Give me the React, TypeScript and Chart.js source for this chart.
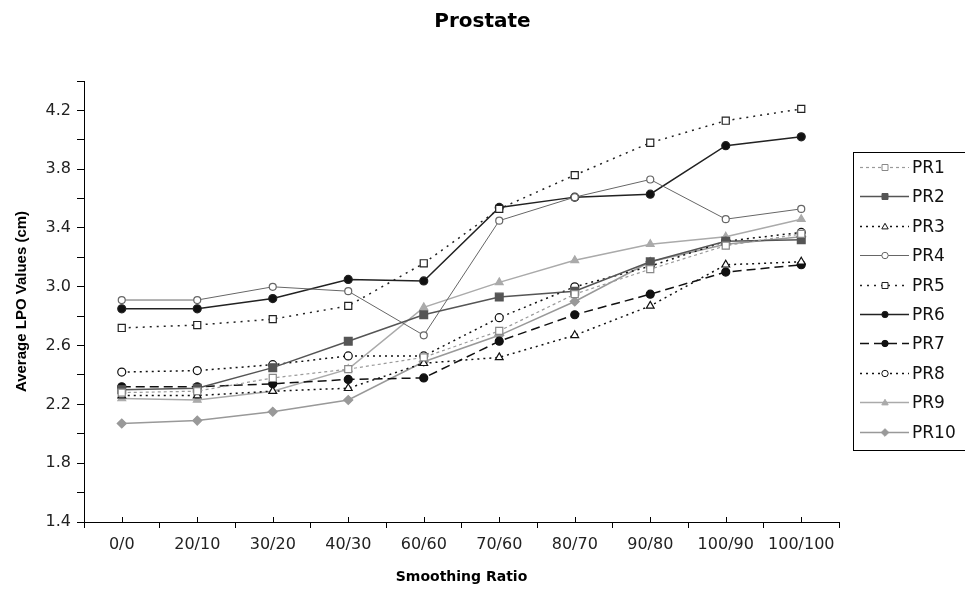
import React, { useEffect, useRef } from "react";
import { Chart, registerables } from "chart.js";

Chart.register(...registerables);

const categories = ["0/0", "20/10", "30/20", "40/30", "60/60", "70/60", "80/70", "90/80", "100/90", "100/100"];
const seriesNames = ["PR1", "PR2", "PR3", "PR4", "PR5", "PR6", "PR7", "PR8", "PR9", "PR10"];
const pr1 = [2.28, 2.29, 2.38, 2.44, 2.52, 2.70, 2.95, 3.12, 3.28, 3.36];
const pr2 = [2.30, 2.31, 2.45, 2.63, 2.81, 2.93, 2.97, 3.17, 3.31, 3.32];
const pr3 = [2.26, 2.26, 2.29, 2.31, 2.48, 2.52, 2.67, 2.87, 3.15, 3.17];
const pr4 = [2.91, 2.91, 3.00, 2.97, 2.67, 3.45, 3.61, 3.73, 3.46, 3.53];
const pr5 = [2.72, 2.74, 2.78, 2.87, 3.16, 3.53, 3.76, 3.98, 4.13, 4.21];
const pr6 = [2.85, 2.85, 2.92, 3.05, 3.04, 3.54, 3.61, 3.63, 3.96, 4.02];
const pr7 = [2.32, 2.32, 2.34, 2.37, 2.38, 2.63, 2.81, 2.95, 3.10, 3.15];
const pr8 = [2.42, 2.43, 2.47, 2.53, 2.53, 2.79, 3.00, 3.14, 3.31, 3.37];
const pr9 = [2.24, 2.23, 2.29, 2.44, 2.86, 3.03, 3.18, 3.29, 3.34, 3.46];
const pr10 = [2.07, 2.09, 2.15, 2.23, 2.49, 2.67, 2.90, 3.17, 3.29, 3.34];
const yMin = 1.4;
const yMax = 4.4;
const yStep = 0.2;

const seriesValues = [pr1, pr2, pr3, pr4, pr5, pr6, pr7, pr8, pr9, pr10];

const styles = [
  { color: "#9a9a9a", dash: [3, 3], width: 1.2, point: "rect", fill: "#ffffff", radius: 5 },
  { color: "#555555", dash: [], width: 1.5, point: "rect", fill: "#555555", radius: 5.5 },
  { color: "#111111", dash: [2, 4], width: 1.5, point: "triangle", fill: "#ffffff", radius: 4.5 },
  { color: "#666666", dash: [], width: 1, point: "circle", fill: "#ffffff", radius: 3.5 },
  { color: "#222222", dash: [2, 5], width: 1.5, point: "rect", fill: "#ffffff", radius: 5 },
  { color: "#222222", dash: [], width: 1.5, point: "circle", fill: "#111111", radius: 4 },
  { color: "#111111", dash: [9, 5], width: 1.5, point: "circle", fill: "#111111", radius: 4 },
  { color: "#111111", dash: [2, 4], width: 1.5, point: "circle", fill: "#ffffff", radius: 4 },
  { color: "#aaaaaa", dash: [], width: 1.5, point: "triangle", fill: "#aaaaaa", radius: 4.5 },
  { color: "#999999", dash: [], width: 1.5, point: "rectRot", fill: "#999999", radius: 4.5 },
];

const wideFont = "'DejaVu Sans', Verdana, sans-serif";
const plainFont = "'Liberation Sans', Arial, sans-serif";

function drawPointShape(ctx: CanvasRenderingContext2D, style: string, r: number, x: number, y: number) {
  ctx.beginPath();
  if (style === "rect") {
    ctx.rect(x - r, y - r, 2 * r, 2 * r);
  } else if (style === "rectRot") {
    ctx.moveTo(x, y - r * 1.2);
    ctx.lineTo(x + r * 1.2, y);
    ctx.lineTo(x, y + r * 1.2);
    ctx.lineTo(x - r * 1.2, y);
    ctx.closePath();
  } else if (style === "triangle") {
    ctx.moveTo(x, y - r);
    ctx.lineTo(x + r, y + r * 0.75);
    ctx.lineTo(x - r, y + r * 0.75);
    ctx.closePath();
  } else {
    ctx.arc(x, y, r, 0, Math.PI * 2);
  }
  ctx.fill();
  ctx.stroke();
}

const centerTicks = {
  id: "centerTicks",
  afterDraw(chart: any) {
    const x = chart.scales.x;
    const ctx = chart.ctx;
    ctx.save();
    ctx.strokeStyle = "#000";
    ctx.lineWidth = 1;
    for (let i = 0; i < categories.length; i++) {
      const px = Math.round(x.getPixelForValue(i)) + 0.5;
      ctx.beginPath();
      ctx.moveTo(px, x.top - 5);
      ctx.lineTo(px, x.top);
      ctx.stroke();
    }
    ctx.restore();
  },
};

const boxLegend = {
  id: "boxLegend",
  afterDraw(chart: any) {
    const ctx = chart.ctx;
    const left = 853.5;
    const top = 152.5;
    const bottom = 450.5;
    ctx.save();
    ctx.strokeStyle = "#000";
    ctx.lineWidth = 1;
    ctx.setLineDash([]);
    ctx.strokeRect(left, top, 130, bottom - top);
    const n = chart.data.datasets.length;
    const gap = 29.4;
    for (let i = 0; i < n; i++) {
      const ds = chart.data.datasets[i];
      const y = Math.round(167 + i * gap) + 0.5;
      ctx.strokeStyle = ds.borderColor;
      ctx.lineWidth = ds.borderWidth;
      ctx.setLineDash(ds.borderDash || []);
      ctx.beginPath();
      ctx.moveTo(860, y);
      ctx.lineTo(909, y);
      ctx.stroke();
      ctx.setLineDash([]);
      ctx.fillStyle = ds.pointBackgroundColor;
      ctx.strokeStyle = ds.pointBorderColor;
      ctx.lineWidth = 1;
      const r = ds.pointStyle === "rect" ? 3 : 3.2;
      drawPointShape(ctx, ds.pointStyle, r, 885, y);
      ctx.fillStyle = "#111";
      ctx.font = "17px " + wideFont;
      ctx.textAlign = "left";
      ctx.textBaseline = "middle";
      ctx.fillText(ds.label, 912, y + 1);
    }
    ctx.restore();
  },
};

export default function App() {
  const ref = useRef<HTMLCanvasElement | null>(null);

  useEffect(() => {
    if (!ref.current) return;
    const datasets = seriesNames.map((name, i) => {
      const s = styles[i];
      return {
        label: name,
        data: seriesValues[i],
        borderColor: s.color,
        borderWidth: s.width,
        borderDash: s.dash,
        pointStyle: s.point,
        pointRadius: s.radius,
        pointBackgroundColor: s.fill,
        pointBorderColor: s.color === "#9a9a9a" ? "#888888" : s.color,
        pointBorderWidth: 1.2,
        fill: false,
        tension: 0,
        yAxisID: "y",
      };
    });
    const chart = new Chart(ref.current, {
      type: "line",
      data: { labels: categories, datasets },
      plugins: [centerTicks, boxLegend],
      options: {
        animation: false,
        responsive: true,
        maintainAspectRatio: false,
        layout: { padding: { left: 0, right: 0, top: 0, bottom: 0 } },
        plugins: {
          legend: { display: false },
          tooltip: { enabled: false },
          title: {
            display: true,
            text: "Prostate",
            color: "#000",
            font: { family: wideFont, size: 20, weight: "bold" },
            padding: { top: 10, bottom: 47 },
          },
        },
        scales: {
          x: {
            type: "category",
            offset: true,
            grid: { display: true, drawOnChartArea: false, offset: true, tickLength: 6, color: "#000" },
            border: { display: true, color: "#000", width: 1 },
            ticks: {
              color: "#222",
              padding: 7,
              maxRotation: 0,
              autoSkip: false,
              font: { family: wideFont, size: 16 },
            },
            title: {
              display: true,
              text: "Smoothing Ratio",
              color: "#000",
              font: { family: wideFont, size: 14, weight: "bold" },
              padding: { top: 8, bottom: 3 },
            },
          },
          y: {
            type: "linear",
            position: "left",
            min: yMin,
            max: yMax,
            grid: { display: true, drawOnChartArea: false, tickLength: 7, color: "#000" },
            border: { display: true, color: "#000", width: 1 },
            afterFit: (scale: any) => {
              scale.width = 84;
            },
            ticks: {
              stepSize: yStep,
              color: "#222",
              padding: 6,
              font: { family: wideFont, size: 16 },
              callback: (v: any) => {
                const k = Math.round((Number(v) - yMin) / yStep);
                return k % 2 === 0 ? Number(v).toFixed(1) : "";
              },
            },
            title: {
              display: true,
              text: "Average LPO Values (cm)",
              color: "#000",
              font: { family: plainFont, size: 15, weight: "bold" },
              padding: { top: 13, bottom: 0 },
            },
          },
          yRight: {
            type: "linear",
            position: "right",
            display: true,
            min: yMin,
            max: yMax,
            grid: { display: false, drawTicks: false },
            border: { display: false },
            ticks: { display: false },
            afterFit: (scale: any) => {
              scale.width = 126;
            },
          },
        },
      },
    } as any);
    return () => chart.destroy();
  }, []);

  return (
    <div style={{ position: "fixed", left: 0, top: 0, width: 965, height: 589, background: "#fff" }}>
      <canvas ref={ref} />
    </div>
  );
}
